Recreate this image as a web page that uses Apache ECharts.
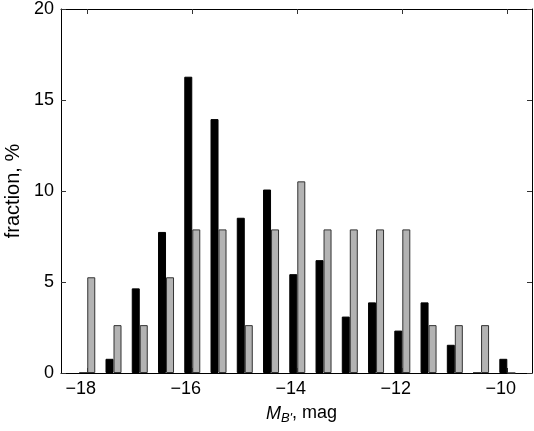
<!DOCTYPE html>
<html><head><meta charset="utf-8">
<script src="https://cdn.jsdelivr.net/npm/echarts@6/dist/echarts.min.js"></script>
<style>html,body{margin:0;padding:0;background:#fff}#c{width:534px;height:431px}</style>
</head><body><div id="c"></div>
<script>
const mags = [-18, -17.5, -17, -16.5, -16, -15.5, -15, -14.5, -14, -13.5, -13, -12.5, -12, -11.5, -11, -10.5, -10];
const blackVals = [0, 0.78, 4.65, 7.75, 16.28, 13.95, 8.53, 10.08, 5.43, 6.2, 3.1, 3.88, 2.33, 3.88, 1.55, 0, 0.78];
const grayVals = [5.26, 2.63, 2.63, 5.26, 7.89, 7.89, 2.63, 7.89, 10.53, 7.89, 7.89, 7.89, 7.89, 2.63, 2.63, 2.63, 0];
const xTicks = [-18, -16, -14, -12, -10];

const FONT = "'Liberation Sans', Arial, Helvetica, sans-serif";
const FS = 18;
const fmt = v => (v < 0 ? '\u2212' + (-v) : String(v));
const chart = echarts.init(document.getElementById('c'), null, {renderer: 'canvas'});
const tickStyle = {show: true, inside: true, length: 5, lineStyle: {color: '#333', width: 1}};
const lineStyle = {show: true, onZero: false, lineStyle: {color: '#000', width: 1}};
chart.setOption({
  animation: false,
  backgroundColor: '#fff',
  grid: {left: 61, right: 2, top: 9, bottom: 58, containLabel: false, outerBoundsMode: 'none'},
  xAxis: [{
    type: 'value', min: -18.5, max: -9.53, position: 'bottom',
    axisLine: lineStyle,
    axisTick: Object.assign({}, tickStyle, {customValues: xTicks}),
    axisLabel: {customValues: xTicks, formatter: fmt, color: '#000', fontSize: FS, fontFamily: FONT, margin: 7, padding: [0, 13, 0, 0]},
    splitLine: {show: false},
    name: '{i|M}{sub|B\'}{n|, mag}', nameLocation: 'middle', nameGap: 29,
    nameTextStyle: {
      color: '#000', fontFamily: FONT, fontSize: FS, padding: [0, 0, 0, 10],
      rich: {
        i: {fontStyle: 'italic', fontSize: FS, fontFamily: FONT, color: '#000'},
        sub: {fontStyle: 'italic', fontSize: 13, fontFamily: FONT, color: '#000', verticalAlign: 'bottom', padding: [10, 0, 0, 0]},
        n: {fontSize: FS, fontFamily: FONT, color: '#000'}
      }
    }
  }, {
    type: 'value', min: -18.5, max: -9.53, position: 'top',
    axisLine: lineStyle,
    axisTick: Object.assign({}, tickStyle, {customValues: xTicks}),
    axisLabel: {show: false, customValues: xTicks},
    splitLine: {show: false}
  }],
  yAxis: [{
    type: 'value', min: 0, max: 20, interval: 5, position: 'left',
    axisLine: lineStyle, axisTick: tickStyle,
    axisLabel: {color: '#000', fontSize: FS, fontFamily: FONT, margin: 7},
    splitLine: {show: false},
    name: 'fraction, %', nameLocation: 'middle', nameGap: 37, nameRotate: 90,
    nameTextStyle: {color: '#000', fontSize: 20, fontFamily: FONT}
  }, {
    type: 'value', min: 0, max: 20, interval: 5, position: 'right',
    axisLine: lineStyle, axisTick: tickStyle,
    axisLabel: {show: false}, splitLine: {show: false}
  }],
  series: [{
    type: 'bar', name: 'black', barWidth: 8, barGap: '0%',
    data: mags.map((m, i) => [m, blackVals[i]]),
    itemStyle: {color: '#000', borderColor: '#000', borderWidth: 1}
  }, {
    type: 'bar', name: 'gray', barWidth: 8, barGap: '0%',
    data: mags.map((m, i) => [m, grayVals[i]]),
    itemStyle: {color: '#b3b3b3', borderColor: '#333', borderWidth: 1}
  }]
});
</script></body></html>
